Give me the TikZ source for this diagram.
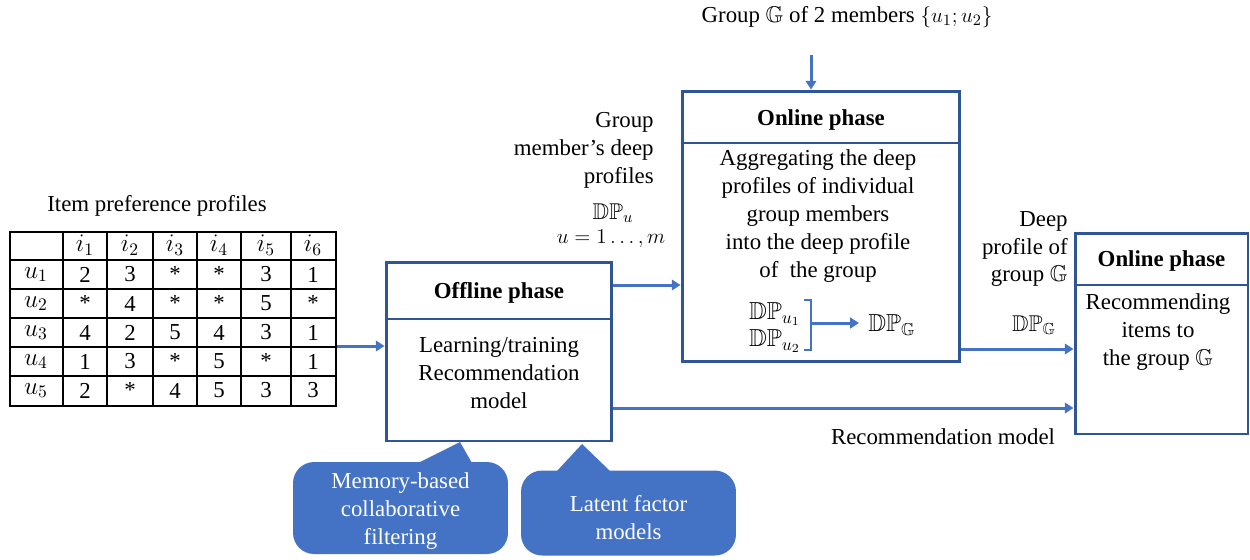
\documentclass[tikz,border=0pt]{standalone}
\usepackage{fontspec}
\setmainfont{Liberation Serif}
\usepackage{amssymb}
\usetikzlibrary{arrows.meta,calc}
\definecolor{boxblue}{HTML}{2F5597}
\definecolor{arrblue}{HTML}{4472C4}
\begin{document}
\begin{tikzpicture}[x=0.02cm,y=-0.02cm,
  font=\fontsize{13}{15.9}\selectfont,
  phasebox/.style={draw=boxblue, line width=1.7pt, inner sep=0},
  divline/.style={draw=boxblue, line width=0.7pt},
  arr/.style={draw=arrblue, line width=1.7pt, -{Triangle[length=5pt,width=6pt]}},
  lbl/.style={align=center, inner sep=0},
  mlbl/.style={align=center, inner sep=0, font=\fontsize{14.5}{17}\selectfont},
  rlbl/.style={align=right, inner sep=0, anchor=east},
  ttl/.style={inner sep=0, font=\fontsize{13}{15.9}\selectfont\bfseries},
  callbody/.style={fill=arrblue, rounded corners=12pt, text=white, align=center, inner sep=0},
  gridline/.style={draw=black, line width=1.1pt}
]
\useasboundingbox (0,0) rectangle (1250,559);

% ---------- table ----------
\node[lbl] (tbltitle) at (157,206) {Item preference profiles};
\node[gridline, draw, minimum width=6.52cm, minimum height=3.48cm, inner sep=0, anchor=north west] (tbl) at (9,231) {};
\foreach \x in {63,107,153,197,241,291} \draw[gridline] (\x,231) -- (\x,405);
\foreach \y in {260,289,318,347,376} \draw[gridline] (9,\y) -- (335,\y);
\foreach \c/\x in {1/85,2/130,3/175,4/219,5/266,6/313}
  \node[mlbl] (h\c) at (\x,245) {$i_{\c}$};
\foreach \r/\y/\vals in {1/274.5/{2,3,*,*,3,1},2/303.5/{*,4,*,*,5,*},3/332.5/{4,2,5,4,3,1},4/361.5/{1,3,*,5,*,1},5/390.5/{2,*,4,5,3,3}}{
  \node[mlbl] (u\r) at (36,\y) {$u_{\r}$};
  \foreach \v [count=\c] in \vals {
    \pgfmathsetmacro{\xx}{{85,130,175,219,266,313}[\c-1]}
    \node[lbl] (c\r-\c) at (\xx,\y) {\v};
  }
}

% ---------- offline box ----------
\node[phasebox, minimum width=4.52cm, minimum height=3.58cm] (off) at (499,351.5) {};
\draw[divline] (off.west |- 0,319) -- (off.east |- 0,319);
\node[ttl] (offt) at (499,293) {Offline phase};
\node[lbl] (offb) at (499,373) {Learning/training\\Recommendation\\model};

% ---------- online box 1 ----------
\node[phasebox, minimum width=5.56cm, minimum height=5.42cm] (on1) at (821,226.5) {};
\draw[divline] (on1.west |- 0,143) -- (on1.east |- 0,143);
\node[ttl] (on1t) at (821,120) {Online phase};
\node[lbl] (on1b) at (818,216) {Aggregating the deep\\profiles of individual\\group members\\into the deep profile\\of\ \ the group};
\node[inner sep=0, anchor=east, font=\fontsize{14}{17}\selectfont] (dpu1) at (801,314) {$\mathbb{DP}_{u_1}$};
\node[inner sep=0, anchor=east, font=\fontsize{14}{17}\selectfont] (dpu2) at (801,341) {$\mathbb{DP}_{u_2}$};
\draw[draw=arrblue, line width=0.7pt] (804,300) -- (811,300) -- (811,350) -- (804,350);
\coordinate (brk) at (811,323);
\node[inner sep=0, anchor=west, font=\fontsize{14}{17}\selectfont] (dpg) at (868,325) {$\mathbb{DP}_{\mathbb{G}}$};
\coordinate (brkend) at (859,323);
\draw[arr] (brk) -- (brkend);

% ---------- online box 2 ----------
\node[phasebox, minimum width=3.46cm, minimum height=4.02cm] (on2) at (1161.5,333.5) {};
\draw[divline] (on2.west |- 0,285) -- (on2.east |- 0,285);
\node[ttl] (on2t) at (1161.5,261) {Online phase};
\node[lbl] (on2b) at (1158,332) {Recommending\\items to\\the group $\mathbb{G}$};

% ---------- labels ----------
\node[lbl] (grp) at (847,17) {Group $\mathbb{G}$ of 2 members $\{u_1; u_2\}$};
\node[rlbl] (gmdp) at (654,150) {Group\\member’s deep\\profiles};
\node[lbl] (dpu) at (613,213) {$\mathbb{DP}_u$};
\node[lbl] (urange) at (611,239) {$u=1\ldots, m$};
\node[rlbl] (dpgl) at (1068,249) {Deep\\profile of\\group $\mathbb{G}$};
\node[lbl] (dpg2) at (1034,325) {$\mathbb{DP}_{\mathbb{G}}$};
\node[lbl] (recm) at (943,437) {Recommendation model};

% ---------- connectors ----------
\coordinate (ya) at (0,346);
\coordinate (yb) at (0,285);
\coordinate (yc) at (0,349);
\coordinate (yd) at (0,408);
\coordinate (gtop) at (811,55);
\draw[arr] (tbl.east |- ya) -- (off.west |- ya);
\draw[arr] (off.east |- yb) -- (on1.west |- yb);
\draw[arr] (on1.east |- yc) -- (on2.west |- yc);
\draw[arr] (off.east |- yd) -- (on2.west |- yd);
\draw[arr] (gtop) -- (on1.north -| gtop);

% ---------- callouts ----------
\node[callbody, minimum width=4.3cm, minimum height=1.84cm] (mcf) at (400.5,508) {};
\node[lbl, text=white] (mcft) at (400.5,511) {Memory-based\\collaborative\\filtering};
\coordinate (tip1) at (460,442);
\fill[arrblue] (418,463) -- (tip1) -- (472,463) -- cycle;
\node[callbody, minimum width=4.3cm, minimum height=1.7cm] (lfm) at (628.5,513) {};
\node[lbl, text=white] (lfmt) at (628.5,518) {Latent factor\\models};
\coordinate (tip2) at (582,444);
\fill[arrblue] (557,471) -- (tip2) -- (610,471) -- cycle;
\end{tikzpicture}
\end{document}
